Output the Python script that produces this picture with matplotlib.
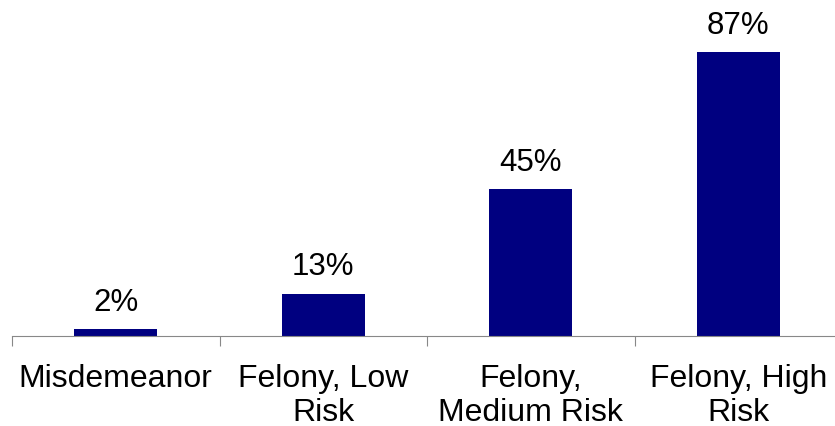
import matplotlib.pyplot as plt
import numpy as np

plt.rcParams['font.family'] = ['Liberation Sans', 'DejaVu Sans']

# categories and their share (%)
categories = ['Misdemeanor', 'Felony, Low\nRisk', 'Felony,\nMedium Risk', 'Felony, High\nRisk']
values = [2, 13, 45, 87]

fig = plt.figure(figsize=(8.35, 4.27), dpi=100)
ax = fig.add_axes([12 / 835, 90 / 427, 830 / 835, 326 / 427])

x = np.arange(len(categories))
ax.bar(x, values, width=0.4, color='#000080')

for xi, v in zip(x, values):
    ax.text(xi, v + 3.8, f'{v}%', ha='center', va='bottom', fontsize=22.5)

ax.set_xlim(-0.5, len(categories) - 0.5)
ax.set_ylim(0, 100)

for s in ['top', 'right', 'left']:
    ax.spines[s].set_visible(False)
ax.spines['bottom'].set_color('#888888')
ax.set_yticks([])

# ticks sit between categories, labels at centres
ax.set_xticks(np.arange(len(categories) + 1) - 0.5)
ax.set_xticklabels([])
ax.tick_params(axis='x', length=7, color='#888888', direction='out')
for xi, lab in zip(x, categories):
    ax.text(xi, -8.3, lab, ha='center', va='top', fontsize=23, linespacing=1.17)

fig.savefig('out.png', dpi=100)
